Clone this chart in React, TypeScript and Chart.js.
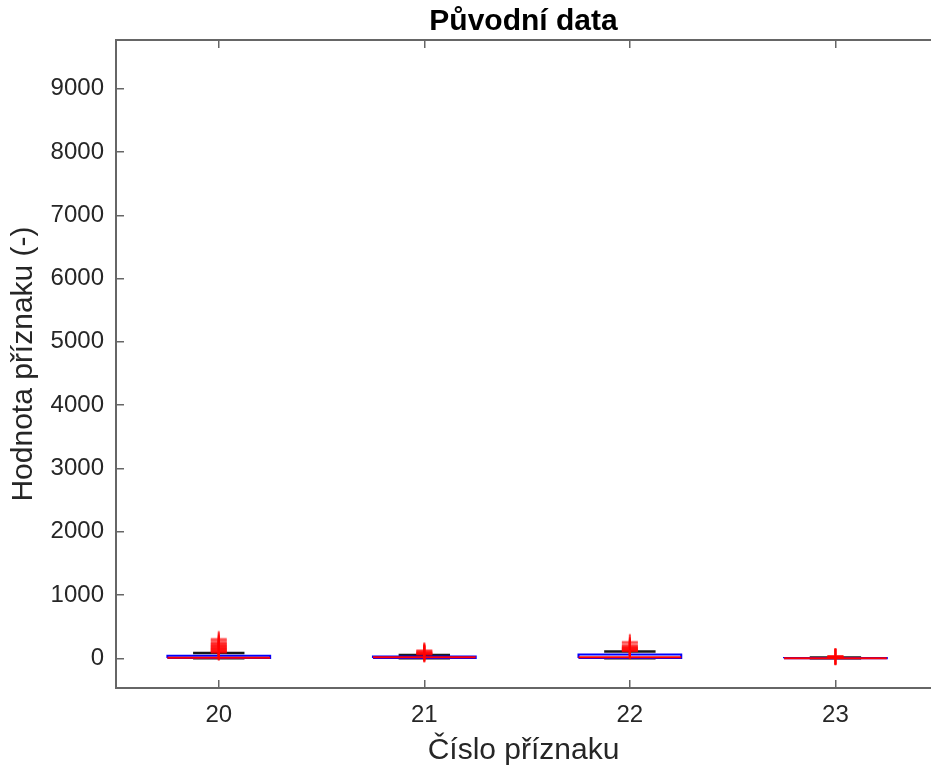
import { useEffect, useRef } from "react";
import { Chart, registerables } from "chart.js";

Chart.register(...registerables);

// ---- data ----
const features = [20, 21, 22, 23];
const lowerWhisker = [0, 0, 0, 0];
const q1 = [3, 5, 3, 0];
const medians = [10, 15, 15, 2];
const q3 = [40, 28, 60, 5];
const upperWhisker = [85, 52, 105, 12];
const outliers20 = [88, 95, 102, 110, 118, 126, 134, 142, 150, 158, 166, 175, 184, 193, 202, 212, 224, 236, 250, 268, 290, 310];
const outliers21 = [58, 64, 70, 76, 82, 88, 95, 104, 115, 128];
const outliers22 = [110, 116, 122, 128, 134, 140, 147, 154, 161, 168, 176, 185, 198, 215, 240, 262];
const outliers23 = [14, 17, 20, 23, 26, 30, 35];
const outliers = [outliers20, outliers21, outliers22, outliers23];
const yTicks = [0, 1000, 2000, 3000, 4000, 5000, 6000, 7000, 8000, 9000];
const xTicks = [20, 21, 22, 23];
const titleText = "Původní data";
const xLabel = "Číslo příznaku";
const yLabel = "Hodnota příznaku (-)";

// ---- style ----
const X_MIN = 19.5;
const X_MAX = 23.465;
const Y_MIN = -470;
const Y_MAX = 9770;
const BOX_HALF = 0.25;
const CAP_HALF = 0.125;
const AXIS_COLOR = "#666666";
const TEXT_COLOR = "#262626";
const FONT = "'Liberation Sans', Arial, Helvetica, sans-serif";

export default function App() {
  const ref = useRef<HTMLCanvasElement | null>(null);

  useEffect(() => {
    if (!ref.current) return;
    const datasets: any[] = [];
    features.forEach((f, i) => {
      // whiskers (dashed)
      datasets.push({
        data: [
          { x: f, y: q3[i] },
          { x: f, y: upperWhisker[i] },
        ],
        showLine: true,
        borderColor: "#000000",
        borderWidth: 1,
        borderDash: [6, 4],
        pointRadius: 0,
        order: 5,
      });
      datasets.push({
        data: [
          { x: f, y: lowerWhisker[i] },
          { x: f, y: q1[i] },
        ],
        showLine: true,
        borderColor: "#000000",
        borderWidth: 1,
        borderDash: [6, 4],
        pointRadius: 0,
        order: 5,
      });
      // caps
      [upperWhisker[i], lowerWhisker[i]].forEach((v) => {
        datasets.push({
          data: [
            { x: f - CAP_HALF, y: v },
            { x: f + CAP_HALF, y: v },
          ],
          showLine: true,
          borderColor: "#1a1a1a",
          borderWidth: 2.5,
          pointRadius: 0,
          order: 4,
        });
      });
      // box
      datasets.push({
        data: [
          { x: f - BOX_HALF, y: q1[i] },
          { x: f + BOX_HALF, y: q1[i] },
          { x: f + BOX_HALF, y: q3[i] },
          { x: f - BOX_HALF, y: q3[i] },
          { x: f - BOX_HALF, y: q1[i] },
        ],
        showLine: true,
        borderColor: "#0000ff",
        borderWidth: 2,
        pointRadius: 0,
        order: 3,
      });
      // median
      datasets.push({
        data: [
          { x: f - BOX_HALF, y: medians[i] },
          { x: f + BOX_HALF, y: medians[i] },
        ],
        showLine: true,
        borderColor: "#ff0000",
        borderWidth: 2,
        pointRadius: 0,
        order: 2,
      });
      // outliers
      datasets.push({
        data: outliers[i].map((v) => ({ x: f, y: v })),
        showLine: false,
        pointStyle: "cross",
        pointRadius: 8,
        pointBorderColor: "rgba(255,0,0,0.5)",
        pointBorderWidth: 2,
        borderColor: "rgba(255,0,0,0.5)",
        order: 1,
      });
    });

    const chart = new Chart(ref.current, {
      type: "scatter",
      data: { datasets },
      options: {
        animation: false,
        responsive: false,
        devicePixelRatio: 1,
        layout: { padding: 0, autoPadding: false },
        plugins: {
          legend: { display: false },
          tooltip: { enabled: false },
          title: {
            display: true,
            fullSize: false,
            text: titleText,
            color: "#000000",
            font: { family: FONT, size: 30, weight: "bold", lineHeight: 1.1 },
            padding: { top: 5, bottom: 2 },
          },
        },
        scales: {
          x: {
            type: "linear",
            position: "bottom",
            min: X_MIN,
            max: X_MAX,
            afterBuildTicks: (s: any) => {
              s.ticks = xTicks.map((v) => ({ value: v }));
            },
            afterFit: (s: any) => {
              s.height = 83;
            },
            grid: {
              drawOnChartArea: false,
              drawTicks: true,
              tickLength: -8,
              color: AXIS_COLOR,
              lineWidth: 1.5,
            },
            border: { display: true, color: AXIS_COLOR, width: 2 },
            ticks: {
              color: TEXT_COLOR,
              font: { family: FONT, size: 24, lineHeight: 1.2 },
              padding: 21,
              maxRotation: 0,
              callback: (v: any) => String(v),
            },
            title: {
              display: true,
              text: xLabel,
              color: TEXT_COLOR,
              font: { family: FONT, size: 30, lineHeight: 1.2 },
              padding: { top: 0, bottom: 2 },
            },
          },
          x2: {
            type: "linear",
            position: "top",
            min: X_MIN,
            max: X_MAX,
            afterBuildTicks: (s: any) => {
              s.ticks = xTicks.map((v) => ({ value: v }));
            },
            afterFit: (s: any) => {
              s.height = 0;
            },
            grid: {
              drawOnChartArea: false,
              drawTicks: true,
              tickLength: -8,
              color: AXIS_COLOR,
              lineWidth: 1.5,
            },
            border: { display: true, color: AXIS_COLOR, width: 2 },
            ticks: { display: false },
          },
          y: {
            type: "linear",
            position: "left",
            min: Y_MIN,
            max: Y_MAX,
            afterBuildTicks: (s: any) => {
              s.ticks = yTicks.map((v) => ({ value: v }));
            },
            afterFit: (s: any) => {
              s.width = 116;
            },
            grid: {
              drawOnChartArea: false,
              drawTicks: true,
              tickLength: -8,
              color: AXIS_COLOR,
              lineWidth: 1.5,
            },
            border: { display: true, color: AXIS_COLOR, width: 2 },
            ticks: {
              color: TEXT_COLOR,
              font: { family: FONT, size: 24, lineHeight: 1.2 },
              padding: 20,
              callback: (v: any) => String(v),
            },
            title: {
              display: true,
              text: yLabel,
              color: TEXT_COLOR,
              font: { family: FONT, size: 30, lineHeight: 1.2 },
              padding: { top: 6, bottom: 0 },
            },
          },
        },
      },
    });
    return () => chart.destroy();
  }, []);

  return (
    <div style={{ position: "fixed", left: 0, top: 0, width: 931, height: 771, background: "#ffffff" }}>
      <canvas ref={ref} width={931} height={771} style={{ display: "block", width: 931, height: 771 }} />
    </div>
  );
}
